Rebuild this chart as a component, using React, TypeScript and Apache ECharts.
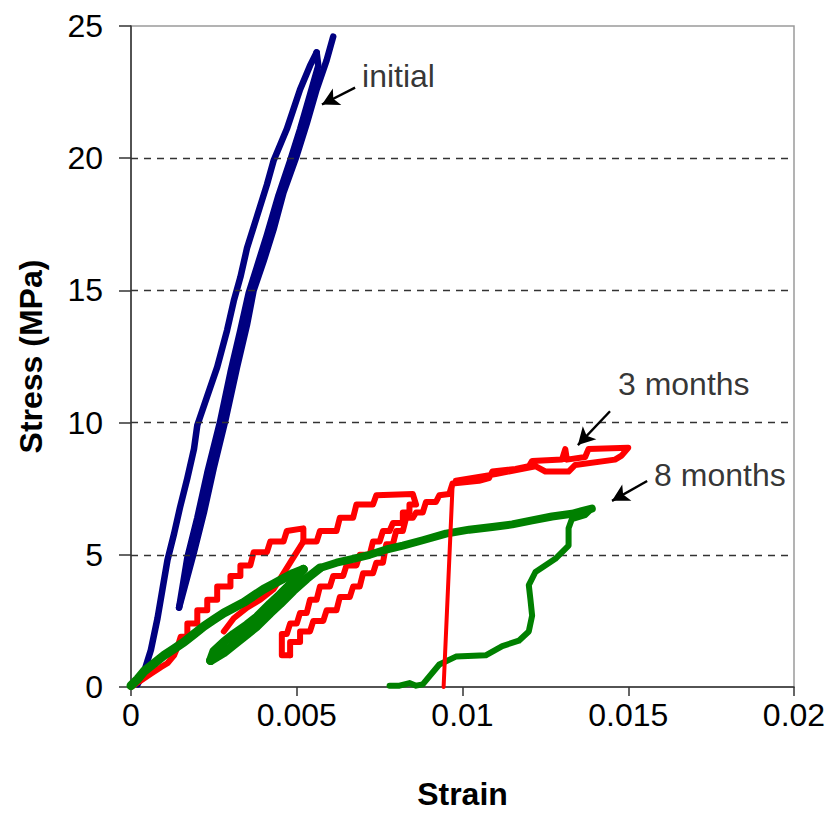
import React, { useEffect, useRef } from "react";
import * as echarts from "echarts";

const FONT = "'Liberation Sans', Arial, Helvetica, sans-serif";

// Axis ticks
const xTicks = [0, 0.005, 0.01, 0.015, 0.02];
const yTicks = [0, 5, 10, 15, 20, 25];
const gridLevels = [5, 10, 15, 20];

// "initial" specimen (blue)
const blueLoad: number[][] = [
  [0.0002, 0.1], [0.0004, 0.6], [0.0006, 1.4], [0.0008, 2.6], [0.00095, 3.7], [0.0011, 4.8],
  [0.0013, 5.8], [0.00148, 6.8], [0.0017, 7.9], [0.0019, 9.0], [0.002, 9.9], [0.0023, 11.0],
  [0.0026, 12.1], [0.0029, 13.5], [0.0031, 14.6], [0.0033, 15.5], [0.0035, 16.6], [0.0038, 17.8],
  [0.0041, 19.0], [0.0043, 19.9], [0.0047, 21.1], [0.0051, 22.6], [0.0054, 23.5], [0.0056, 24.0],
];
const blueUnload: number[][] = [
  [0.0056, 24.0], [0.00565, 23.5], [0.0054, 22.4], [0.0051, 21.1], [0.0048, 19.9], [0.00445, 18.6],
  [0.0041, 17.1], [0.0038, 15.9], [0.00355, 14.9], [0.0033, 13.5], [0.003, 11.9], [0.00268, 10.0],
  [0.0023, 8.1], [0.002, 6.4], [0.0017, 4.9], [0.00145, 3.0],
];
const blueReload: number[][] = [
  [0.00145, 3.0], [0.0019, 5.1], [0.0022, 6.6], [0.0025, 8.3], [0.00285, 10.1], [0.0032, 12.1],
  [0.0035, 13.7], [0.0037, 15.0], [0.004, 16.1], [0.0043, 17.3], [0.0046, 18.7], [0.005, 20.1],
  [0.0053, 21.3], [0.0056, 22.6], [0.0059, 23.7], [0.0061, 24.6],
];

// "3 months" specimen (red)
const redLoad1: number[][] = [
  [0, 0], [0.0003, 0.25], [0.0006, 0.5], [0.0009, 0.75], [0.0011, 0.9], [0.0013, 1.2], [0.0014, 1.5],
  [0.0015, 1.9], [0.0017, 1.9], [0.0017, 2.4], [0.002, 2.4], [0.002, 2.9], [0.0023, 2.9], [0.0023, 3.3],
  [0.0026, 3.3], [0.0026, 3.8], [0.003, 3.8], [0.003, 4.2], [0.0033, 4.2], [0.0033, 4.6], [0.0036, 4.6],
  [0.0037, 5.1], [0.0041, 5.1], [0.0042, 5.5], [0.0046, 5.5], [0.0047, 5.9], [0.0052, 6.0], [0.0052, 5.5],
];
const redUnload1: number[][] = [
  [0.0052, 5.5], [0.0049, 4.9], [0.0046, 4.3], [0.0043, 3.7], [0.0039, 3.3], [0.0035, 3.0],
  [0.0031, 2.6], [0.0028, 2.1],
];
const redLoad2: number[][] = [
  [0.0052, 5.5], [0.0056, 5.5], [0.0057, 5.9], [0.0062, 5.9], [0.0063, 6.4], [0.0067, 6.4],
  [0.0068, 6.9], [0.0073, 6.9], [0.0074, 7.25], [0.0085, 7.3], [0.0086, 6.9],
  [0.0084, 6.9], [0.0084, 6.6], [0.0082, 6.6], [0.0082, 6.2], [0.0079, 6.2], [0.0078, 5.9],
  [0.0076, 5.9], [0.0075, 5.5], [0.0073, 5.5], [0.0072, 5.0], [0.0069, 5.0], [0.0068, 4.6],
  [0.0065, 4.6], [0.0064, 4.2], [0.0061, 4.2], [0.006, 3.8], [0.0057, 3.8], [0.0056, 3.3],
  [0.0054, 3.3], [0.0053, 2.8], [0.0051, 2.8], [0.005, 2.4], [0.0048, 2.4], [0.0047, 2.0],
  [0.00455, 2.0], [0.00455, 1.2], [0.0048, 1.2],
];
const redLoad3: number[][] = [
  [0.0048, 1.2], [0.0048, 1.7], [0.0051, 1.7], [0.0051, 2.1], [0.0054, 2.1], [0.0055, 2.5],
  [0.0058, 2.5], [0.0059, 2.9], [0.0062, 2.9], [0.0063, 3.4], [0.0066, 3.4], [0.0067, 3.8],
  [0.0069, 3.8], [0.007, 4.3], [0.0073, 4.3], [0.0074, 4.7], [0.0076, 4.7], [0.0077, 5.4],
  [0.0079, 5.4], [0.008, 5.9], [0.0082, 5.9], [0.0083, 6.4], [0.0085, 6.4], [0.0086, 6.6],
  [0.0088, 6.6], [0.0089, 7.0], [0.0092, 7.0], [0.0093, 7.25], [0.0096, 7.3], [0.0097, 7.7],
  [0.0105, 7.8], [0.0108, 7.9], [0.0109, 8.15], [0.0116, 8.25], [0.012, 8.35], [0.0121, 8.55],
  [0.013, 8.6], [0.0131, 9.0], [0.01315, 8.6], [0.0137, 8.7], [0.0138, 9.0], [0.015, 9.05],
  [0.0148, 8.75], [0.0146, 8.6], [0.0134, 8.4], [0.0132, 8.15], [0.0125, 8.15], [0.0122, 8.35],
  [0.011, 8.05], [0.0098, 7.8],
];
const redDrop: number[][] = [
  [0.0098, 7.8], [0.0097, 7.6], [0.00943, 0],
];

// "8 months" specimen (green)
const greenLoad1: number[][] = [
  [0, 0.05], [0.0002, 0.3], [0.0004, 0.6], [0.0007, 0.9], [0.001, 1.2], [0.0013, 1.45], [0.0016, 1.7],
  [0.0019, 2.0], [0.0022, 2.3], [0.0025, 2.55], [0.0028, 2.8], [0.0031, 3.0], [0.0034, 3.2],
  [0.0037, 3.45], [0.004, 3.7], [0.0043, 3.9], [0.0046, 4.1], [0.0049, 4.3], [0.0052, 4.45],
];
const greenUnload1: number[][] = [
  [0.0052, 4.45], [0.0049, 4.0], [0.0045, 3.5], [0.0042, 3.15], [0.0038, 2.65], [0.0035, 2.35],
  [0.0031, 2.0], [0.0028, 1.7], [0.0025, 1.35], [0.0024, 1.0],
];
const greenReload1: number[][] = [
  [0.0024, 1.0], [0.0028, 1.3], [0.0031, 1.6], [0.0035, 2.0], [0.0038, 2.3], [0.0042, 2.8],
  [0.0045, 3.15], [0.0049, 3.65], [0.0053, 4.1], [0.0057, 4.5],
];
const greenLoad2: number[][] = [
  [0.0057, 4.5], [0.0062, 4.7], [0.0067, 4.85], [0.0072, 5.0], [0.0077, 5.2], [0.0082, 5.35],
  [0.0088, 5.55], [0.0095, 5.8], [0.0102, 5.95], [0.0109, 6.05], [0.0115, 6.15], [0.0121, 6.3],
  [0.0127, 6.45], [0.0133, 6.55], [0.0136, 6.65], [0.0139, 6.75],
];
const greenUnload2: number[][] = [
  [0.0139, 6.75], [0.0137, 6.5], [0.0133, 6.35], [0.0132, 6.0], [0.0132, 5.35], [0.0128, 4.85],
  [0.0122, 4.35], [0.012, 3.85], [0.01205, 3.3], [0.0121, 2.7], [0.012, 2.1], [0.0117, 1.75],
  [0.0112, 1.55], [0.0107, 1.2], [0.0098, 1.15], [0.0093, 0.85], [0.0088, 0.1], [0.0086, 0.05],
  [0.0084, 0.15], [0.0081, 0.05], [0.0078, 0.05],
];

// Annotations
const annoTexts = ["initial", "3 months", "8 months"];
const annoTextPos: number[][] = [[0.00697, 23.1], [0.01469, 11.45], [0.01578, 8.02]];
const annoArrowFrom: number[][] = [[0.00676, 22.67], [0.01445, 10.43], [0.01557, 7.79]];
const annoArrowTo: number[][] = [[0.00576, 22.03], [0.01348, 9.15], [0.01451, 7.04]];

const BLUE = "#000080";
const RED = "#FF0000";
const GREEN = "#008000";

function seg(data: number[][], color: string, width: number, z: number) {
  return {
    type: "line",
    data,
    showSymbol: false,
    symbol: "none",
    silent: true,
    z,
    lineStyle: { color, width, cap: "round", join: "round" },
    emphasis: { disabled: true },
  };
}

export default function App() {
  const ref = useRef<HTMLDivElement>(null);
  useEffect(() => {
    if (!ref.current) return;
    const chart = echarts.init(ref.current, undefined, { renderer: "svg" });
    const fmt = (v: number) => String(parseFloat(v.toFixed(4)));
    const option: any = {
      animation: false,
      grid: {
        left: 131, right: 39, top: 26, bottom: 125,
        show: true, borderColor: "#9a9a9a", borderWidth: 1.5, backgroundColor: "#fff",
      },
      xAxis: {
        type: "value", min: xTicks[0], max: xTicks[xTicks.length - 1], interval: 0.005,
        name: "Strain", nameLocation: "middle", nameGap: 91,
        nameTextStyle: { fontSize: 32, fontWeight: "bold", fontFamily: FONT, color: "#000" },
        axisLine: { show: true, onZero: false, lineStyle: { color: "#333", width: 1.5 } },
        axisTick: { show: true, length: 9, lineStyle: { color: "#333", width: 1.5 } },
        axisLabel: { fontSize: 32, color: "#000", fontFamily: FONT, margin: 12, formatter: fmt },
        splitLine: { show: false },
      },
      yAxis: {
        type: "value", min: yTicks[0], max: yTicks[yTicks.length - 1], interval: 5,
        name: "Stress (MPa)", nameLocation: "middle", nameGap: 84, nameRotate: 90,
        nameTextStyle: { fontSize: 32, fontWeight: "bold", fontFamily: FONT, color: "#000" },
        axisLine: { show: true, onZero: false, lineStyle: { color: "#333", width: 1.5 } },
        axisTick: { show: true, length: 12, lineStyle: { color: "#333", width: 1.5 } },
        axisLabel: { fontSize: 32, color: "#000", fontFamily: FONT, margin: 28 },
        splitLine: { show: false },
      },
      series: [
        {
          type: "line", data: [], silent: true, z: 1,
          markLine: {
            silent: true, symbol: ["none", "none"], label: { show: false },
            lineStyle: { color: "#333", width: 1.3, type: [7, 6] },
            data: gridLevels.map((v) => ({ yAxis: v })),
          },
        },
        seg(blueLoad, BLUE, 6.5, 3),
        seg(blueUnload, BLUE, 6.5, 3),
        seg(blueReload, BLUE, 6.5, 3),
        seg(redLoad1, RED, 6, 4),
        seg(redUnload1, RED, 6, 4),
        seg(redLoad2, RED, 6, 4),
        seg(redLoad3, RED, 6, 4),
        seg(greenLoad1, GREEN, 9, 5),
        seg(greenUnload1, GREEN, 9, 5),
        seg(greenReload1, GREEN, 9, 5),
        seg(greenLoad2, GREEN, 8, 5),
        seg(greenUnload2, GREEN, 6, 5),
        seg(redDrop, RED, 4, 6),
        {
          type: "scatter", silent: true, z: 7, symbolSize: 0,
          data: annoTextPos.map((p, i) => ({ value: p, name: annoTexts[i] })),
          label: {
            show: true, position: "right", distance: 0, formatter: (p: any) => p.name,
            fontSize: 32, color: "#000", fontFamily: FONT,
          },
          markLine: {
            silent: true, symbol: ["none", "arrow"], symbolSize: [14, 17],
            label: { show: false },
            lineStyle: { color: "#000", width: 2.4, type: "solid" },
            data: annoArrowFrom.map((f, i) => [{ coord: f }, { coord: annoArrowTo[i] }]),
          },
        },
      ],
    };
    chart.setOption(option);
    return () => chart.dispose();
  }, []);
  return (
    <div
      ref={ref}
      style={{ position: "fixed", left: 0, top: 0, width: 833, height: 815, background: "#fff" }}
    />
  );
}
